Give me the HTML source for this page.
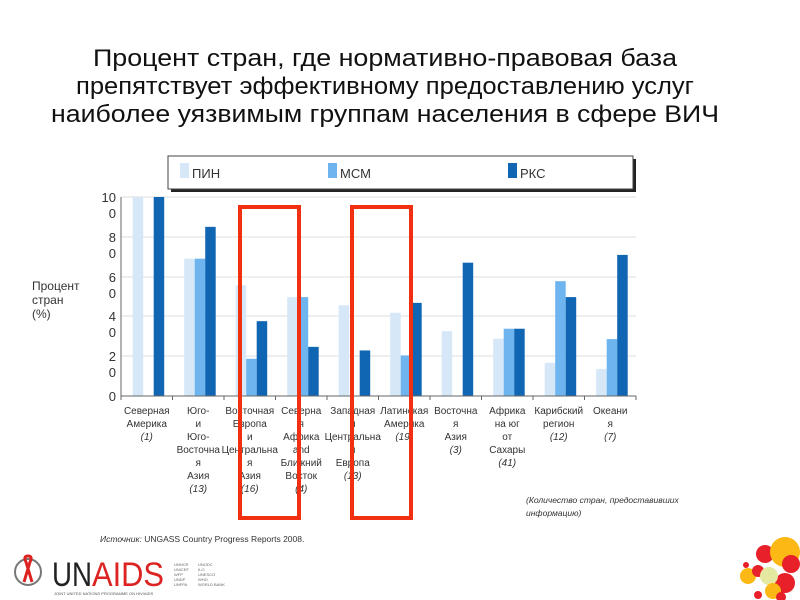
<!DOCTYPE html>
<html><head><meta charset="utf-8"><style>
body{margin:0;background:#fff;}
svg{display:block;font-family:"Liberation Sans",sans-serif;}
</style></head><body>
<svg width="800" height="600" viewBox="0 0 800 600" xmlns="http://www.w3.org/2000/svg">
<rect width="800" height="600" fill="#fff"/>
<g font-size="24" fill="#111" text-anchor="middle">
<text x="385" y="66" textLength="584" lengthAdjust="spacingAndGlyphs">Процент стран, где нормативно-правовая база</text>
<text x="385" y="94" textLength="618" lengthAdjust="spacingAndGlyphs">препятствует эффективному предоставлению услуг</text>
<text x="385" y="122" textLength="668" lengthAdjust="spacingAndGlyphs">наиболее уязвимым группам населения в сфере ВИЧ</text>
</g>
<!-- legend -->
<rect x="171" y="159" width="465" height="33" fill="#222"/>
<rect x="168" y="156" width="465" height="33" fill="#fff" stroke="#444" stroke-width="1"/>
<rect x="180" y="163" width="9" height="15" fill="#d6e8f8"/>
<text x="192" y="178" font-size="13" fill="#333">ПИН</text>
<rect x="328" y="163" width="9" height="15" fill="#6eb4ee"/>
<text x="340" y="178" font-size="13" fill="#333">МСМ</text>
<rect x="508" y="163" width="9" height="15" fill="#1166b3"/>
<text x="520" y="178" font-size="13" fill="#333">РКС</text>
<!-- grid -->
<g stroke="#ddd" stroke-width="1">
<line x1="121" y1="197" x2="636" y2="197"/>
<line x1="121" y1="237" x2="636" y2="237"/>
<line x1="121" y1="277" x2="636" y2="277"/>
<line x1="121" y1="316" x2="636" y2="316"/>
<line x1="121" y1="356" x2="636" y2="356"/>
</g>
<g font-size="13" fill="#333" text-anchor="end">
<text x="116" y="202">10</text><text x="116" y="218">0</text>
<text x="116" y="242">8</text><text x="116" y="258">0</text>
<text x="116" y="282">6</text><text x="116" y="298">0</text>
<text x="116" y="321">4</text><text x="116" y="337">0</text>
<text x="116" y="361">2</text><text x="116" y="377">0</text>
<text x="116" y="401">0</text>
</g>
<g font-size="12" fill="#333">
<text x="32" y="290">Процент</text><text x="32" y="304">стран</text><text x="32" y="318">(%)</text>
</g>
<g id="bars"></g>
<line x1="121" y1="396" x2="636" y2="396" stroke="#666"/>
<line x1="121" y1="197" x2="121" y2="400" stroke="#666"/>
<g stroke="#666" id="ticks"></g>
<g id="labels" font-size="10" fill="#333" text-anchor="middle"></g>
<rect x="240" y="207" width="59" height="311" fill="none" stroke="#f03010" stroke-width="4"/>
<rect x="352" y="207" width="59" height="311" fill="none" stroke="#f03010" stroke-width="4"/>
<g font-size="8.5" font-style="italic" fill="#333">
<text x="526" y="503">(Количество стран, предоставивших</text>
<text x="526" y="516">информацию)</text>
<text x="100" y="542">Источник: <tspan font-style="normal">UNGASS Country Progress Reports 2008.</tspan></text>
</g>
<!-- UNAIDS logo -->
<circle cx="28" cy="572" r="13" fill="none" stroke="#777" stroke-width="2"/>
<path d="M24 582 L30 562 Q33 556 28 556 Q23 556 26 562 L32 582" fill="none" stroke="#d22" stroke-width="3"/>
<text x="52" y="586" font-size="34" fill="#222" textLength="40" lengthAdjust="spacingAndGlyphs">UN</text>
<text x="92" y="586" font-size="34" fill="#d22" textLength="72" lengthAdjust="spacingAndGlyphs">AIDS</text>
<text x="54" y="595" font-size="4" fill="#555">JOINT UNITED NATIONS PROGRAMME ON HIV/AIDS</text>
<g font-size="4" fill="#666"><text x="174" y="566">UNHCR</text><text x="174" y="571">UNICEF</text><text x="174" y="576">WFP</text><text x="174" y="581">UNDP</text><text x="174" y="586">UNFPA</text>
<text x="198" y="566">UNODC</text><text x="198" y="571">ILO</text><text x="198" y="576">UNESCO</text><text x="198" y="581">WHO</text><text x="198" y="586">WORLD BANK</text></g>
<!-- circles -->
<circle cx="765" cy="554" r="9" fill="#e8202a"/>
<circle cx="785" cy="552" r="15" fill="#fcb814"/>
<circle cx="791" cy="564" r="9" fill="#e8202a"/>
<circle cx="748" cy="576" r="8" fill="#fcb814"/>
<circle cx="758" cy="571" r="6" fill="#e8202a"/>
<circle cx="785" cy="583" r="10" fill="#e8202a"/>
<circle cx="769" cy="576" r="9" fill="#e4e8a0"/>
<circle cx="773" cy="591" r="8" fill="#fcb814"/>
<circle cx="746" cy="565" r="3" fill="#e8202a"/>
<circle cx="758" cy="595" r="4" fill="#e8202a"/>
<circle cx="781" cy="597" r="5" fill="#e8202a"/>
</svg>
<script>
var d=[[100,0,100],[69,69,85],[55.7,18.7,37.6],[49.7,49.7,24.7],[45.6,0,22.9],[41.8,20.4,46.8],[32.6,0,67],[28.8,33.8,33.8],[16.7,57.7,49.7],[13.6,28.6,70.9]];
var c=["#d6e8f8","#6eb4ee","#1166b3"];
var L=[["Северная","Америка","(1)"],["Юго-","и","Юго-","Восточна","я","Азия","(13)"],["Восточная","Европа","и","Центральна","я","Азия","(16)"],["Северна","я","Африка","and","Ближний","Восток","(4)"],["Западная","и","Центральна","я","Европа","(13)"],["Латинская","Америка","(19)"],["Восточна","я","Азия","(3)"],["Африка","на юг","от","Сахары","(41)"],["Карибский","регион","(12)"],["Океани","я","(7)"]];
var ns="http://www.w3.org/2000/svg",b=document.getElementById("bars"),t=document.getElementById("ticks"),lb=document.getElementById("labels");
function el(p,n,a,tx){var e=document.createElementNS(ns,n);for(var k in a)e.setAttribute(k,a[k]);if(tx)e.textContent=tx;p.appendChild(e);return e;}
for(var i=0;i<10;i++){var g=121+51.5*i;
for(var j=0;j<3;j++){var h=d[i][j]*1.99;if(h>0)el(b,"rect",{x:g+11.7+10.5*j,y:396-h,width:10.5,height:h,fill:c[j]});}
el(t,"line",{x1:g+51.5,y1:396,x2:g+51.5,y2:400});
for(var k=0;k<L[i].length;k++){var s=L[i][k];var a={x:g+25.75,y:414+13*k};if(s[0]=="(")a["font-style"]="italic";el(lb,"text",a,s);}
}
</script>
</body></html>
